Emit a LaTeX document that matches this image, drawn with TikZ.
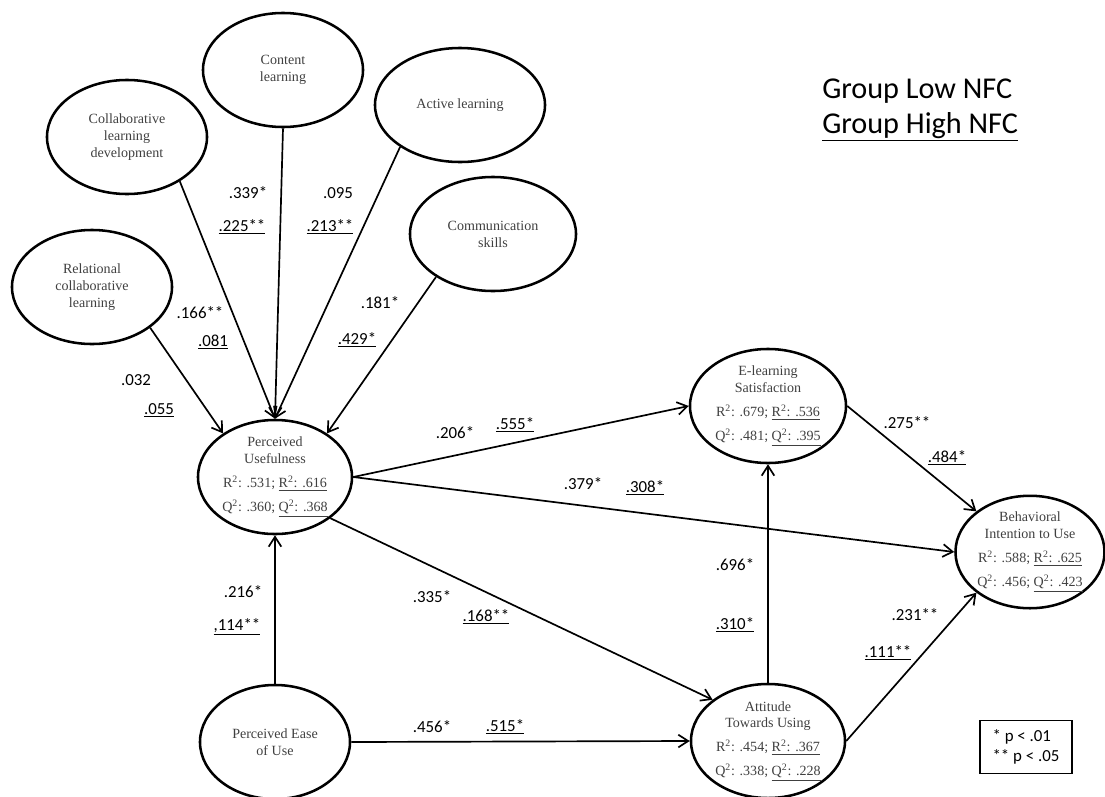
\documentclass[tikz,border=0pt]{standalone}
\usepackage{fontspec}
\setmainfont{Liberation Serif}
\newfontfamily\calibri{Carlito}
\usetikzlibrary{shapes.geometric,arrows.meta}

\begin{document}
\begin{tikzpicture}[x=0.025cm,y=-0.025cm,
latent/.style={ellipse,draw,line width=1.8pt,minimum width=4cm,minimum height=2.85cm,inner sep=0pt,align=center,text=black!75,font=\fontsize{10}{12}\selectfont},
coef/.style={inner sep=0pt,font=\calibri\fontsize{12}{14}\selectfont},
link/.style={line width=1.2pt,-{Straight Barb[length=7pt,width=9pt]}}]
\useasboundingbox (0,0) rectangle (1105,796);
\node [latent] (rel) at (92,287) {Relational\\collaborative\\learning};
\node [latent] (collab) at (127,137) {Collaborative\\learning\\development};
\node [latent] (content) at (283,70) {Content\\learning};
\node [latent,minimum width=4.25cm] (active) at (460,105) {Active learning};
\node [latent,minimum width=4.15cm] (comm) at (493,234) {Communication\\skills};
\node [latent,minimum width=3.85cm] (pu) at (275,477) {Perceived\\Usefulness\\[5pt]R\textsuperscript{2}: .531; \underline{R\textsuperscript{2}: .616}\\[5pt]Q\textsuperscript{2}: .360; \underline{Q\textsuperscript{2}: .368}};
\node [latent,minimum width=3.75cm] (ease) at (275,742) {Perceived Ease\\of Use};
\node [latent,minimum width=3.9cm] (el) at (768,406) {E-learning\\Satisfaction\\[5pt]R\textsuperscript{2}: .679; \underline{R\textsuperscript{2}: .536}\\[5pt]Q\textsuperscript{2}: .481; \underline{Q\textsuperscript{2}: .395}};
\node [latent,minimum width=3.85cm] (att) at (768,741) {Attitude\\Towards Using\\[5pt]R\textsuperscript{2}: .454; \underline{R\textsuperscript{2}: .367}\\[5pt]Q\textsuperscript{2}: .338; \underline{Q\textsuperscript{2}: .228}};
\node [latent,minimum width=3.6cm,minimum height=2.7cm] (behav) at (1030,552) {Behavioral\\Intention to Use\\[5pt]R\textsuperscript{2}: .588; \underline{R\textsuperscript{2}: .625}\\[5pt]Q\textsuperscript{2}: .456; \underline{Q\textsuperscript{2}: .423}};
\draw [link] (rel.-35) -- (pu.140);
\draw [link] (collab.-40) -- (pu.north);
\draw [link] (content.south) -- (pu.north);
\draw [link] (active.-145) -- (pu.north);
\draw [link] (comm.-143) -- (pu.40);
\draw [link] (pu.east) -- (el.west);
\draw [link] (pu.east) -- (behav.west);
\draw [link] (pu.south east) -- (att.north west);
\draw [link] (ease.north) -- (pu.south);
\draw [link] (ease.east) -- (att.west);
\draw [link] (att.north) -- (el.south);
\draw [link] (att.east) -- (behav.south west);
\draw [link] (el.east) -- (behav.north west);
\node [coef] (lcont) at (248,193) {.339*};
\node [coef] (hcont) at (242,227) {\underline{.225**}};
\node [coef] (lact) at (338,193) {.095};
\node [coef] (hact) at (330,227) {\underline{.213**}};
\node [coef] (lcollab) at (200,313) {.166**};
\node [coef] (hcollab) at (213,342) {\underline{.081}};
\node [coef] (lrel) at (136,380) {.032};
\node [coef] (hrel) at (159,410) {\underline{.055}};
\node [coef] (lcomm) at (380,303) {.181*};
\node [coef] (hcomm) at (357,340) {\underline{.429*}};
\node [coef] (lpuel) at (455,433) {.206*};
\node [coef] (hpuel) at (515,425) {\underline{.555*}};
\node [coef] (lpubi) at (583,484) {.379*};
\node [coef] (hpubi) at (645,488) {\underline{.308*}};
\node [coef] (lpuatt) at (432,597) {.335*};
\node [coef] (hpuatt) at (486,617) {\underline{.168**}};
\node [coef] (leasepu) at (243,592) {.216*};
\node [coef] (heasepu) at (237,627) {\underline{,114**}};
\node [coef] (leaseatt) at (432,727) {.456*};
\node [coef] (heaseatt) at (505,727) {\underline{.515*}};
\node [coef] (lattel) at (735,565) {.696*};
\node [coef] (hattel) at (735,625) {\underline{.310*}};
\node [coef] (lattbi) at (915,615) {.231**};
\node [coef] (hattbi) at (888,653) {\underline{.111**}};
\node [coef] (lelbi) at (907,423) {.275**};
\node [coef] (helbi) at (947,458) {\underline{.484*}};
\node [anchor=base west,inner sep=0pt,font=\calibri\fontsize{21.5}{25}\selectfont] (glow) at (822,98) {Group Low NFC};
\node [anchor=base west,inner sep=0pt,font=\calibri\fontsize{21.5}{25}\selectfont] (ghigh) at (822,133) {\underline{Group High NFC}};
\node [coef,draw,line width=1.2pt,align=left,minimum width=2.3cm,minimum height=1.33cm] (key) at (1026,747) {* p < .01\\** p < .05};
\end{tikzpicture}
\end{document}
